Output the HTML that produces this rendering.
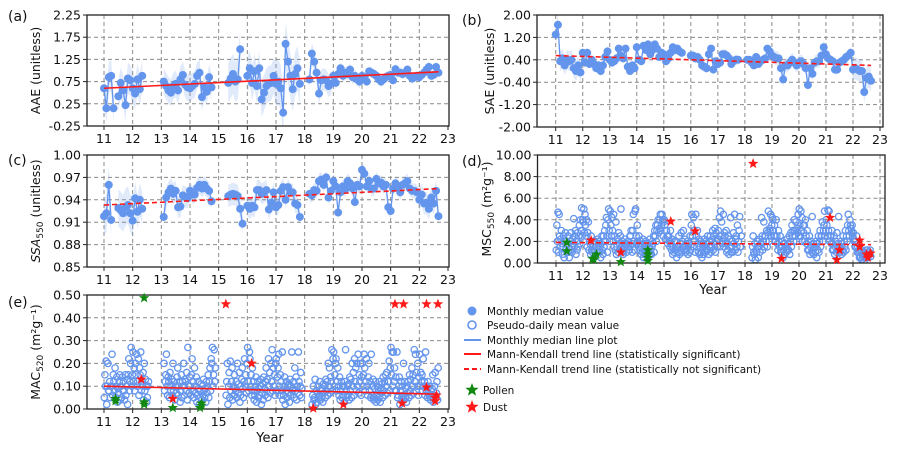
<!DOCTYPE html>
<html><head><meta charset="utf-8">
<style>
html,body{margin:0;padding:0;background:#fff;}
svg{display:block;font-family:"DejaVu Sans","Liberation Sans",sans-serif;}
</style></head>
<body>
<svg id="fig" width="898" height="453" viewBox="0 0 898 453" xmlns="http://www.w3.org/2000/svg"></svg>
<script>
// ---------------- DATA ----------------
const startYear = 2011;
const aaeTicks = [-0.25,0.25,0.75,1.25,1.75,2.25];
const saeTicks = [-2.0,-1.2,-0.4,0.4,1.2,2.0];
const ssaTicks = [0.85,0.88,0.91,0.94,0.97,1.00];
const mscTicks = [0,2,4,6,8,10];
const macTicks = [0,0.1,0.2,0.3,0.4,0.5];
const yearTicks = [11,12,13,14,15,16,17,18,19,20,21,22,23];

const aaeValues = [
0.6,0.15,0.85,0.88,0.15,null,0.42,0.72,0.55,0.22,0.82,0.78,
0.6,0.48,0.8,0.58,0.88,null,null,null,null,null,null,null,
null,0.75,0.65,0.55,0.5,0.65,0.7,0.55,0.8,0.9,0.68,0.62,
0.6,0.65,0.7,0.88,0.95,0.4,0.62,0.52,0.85,0.62,null,null,
null,null,null,null,0.72,0.82,0.92,0.75,0.8,1.48,null,null,
0.88,1.05,0.72,0.98,0.65,1.05,0.35,0.5,0.65,0.7,0.72,0.88,
0.7,0.75,0.6,0.05,1.6,1.2,0.88,0.58,0.92,1.05,0.7,null,
null,null,0.8,1.38,1.2,0.95,0.48,0.78,0.8,0.78,0.65,0.7,
0.88,0.72,0.92,1.05,0.88,0.95,0.92,1.02,0.85,0.88,0.8,0.75,
0.88,0.85,0.75,0.98,0.95,0.92,0.88,0.8,0.75,0.8,0.85,0.88,
0.9,0.78,1.03,0.95,0.95,0.92,0.95,1.02,0.88,0.82,0.85,0.88,
0.85,0.9,0.95,1.02,1.08,0.88,0.9,1.08,0.95];
const aaeSpread = [0.35,0.35,0.3,0.3,0.45,0.4,0.5,0.25,0.15,0.12,0.12,0.12];
const aaeTrend = [0.6,0.97];

const saeValues = [
1.3,1.65,0.35,0.45,0.2,0.4,0.35,0.4,0.1,0.0,0.2,-0.05,
0.65,0.3,0.65,0.25,0.4,0.25,0.1,0.2,0.0,0.2,0.5,0.7,
0.4,0.3,0.35,0.45,0.8,0.55,0.45,0.8,0.15,0.0,0.2,0.1,
0.85,0.4,0.35,0.9,0.75,0.95,0.6,0.75,0.95,0.8,0.5,0.65,
0.6,0.35,0.45,0.65,0.85,0.75,0.8,0.7,0.65,null,null,null,
0.55,0.55,0.45,0.5,0.4,0.2,0.15,0.1,0.6,0.8,0.05,0.35,
0.25,0.3,0.6,0.6,0.55,0.45,0.25,0.35,0.4,0.4,null,null,
null,0.4,0.4,0.3,0.2,0.5,0.25,0.35,0.4,0.45,0.8,0.7,
0.55,0.5,0.45,0.45,0.1,-0.3,0.2,0.2,0.3,0.4,0.3,0.2,
0.3,0.35,0.25,0.1,-0.5,0.1,-0.1,0.3,0.35,0.35,0.55,0.85,
0.6,0.45,0.4,0.35,0.05,0.05,0.3,0.35,0.4,0.5,0.55,0.65,
0.05,0.1,0.05,0.0,0.0,-0.75,-0.25,-0.2,-0.35];
const saeSpread = [0.35,0.18,0.18,0.18,0.18,0.18,0.18,0.12,0.25,0.25,0.18,0.4];
const saeTrend = [0.55,0.2];

const ssaValues = [
0.918,0.922,0.96,0.913,null,null,0.929,0.926,0.922,0.93,0.933,0.922,
0.912,0.942,0.924,0.94,0.928,null,null,null,null,null,null,null,
null,0.917,0.943,0.95,0.955,0.948,0.952,0.93,0.931,0.946,0.944,0.942,
0.952,0.947,0.947,0.956,0.96,0.955,0.96,0.955,0.952,0.938,null,null,
null,null,null,null,0.945,0.947,0.948,0.947,0.945,0.928,0.908,null,
0.932,0.928,0.932,0.93,0.953,0.953,0.948,0.95,0.953,0.927,0.936,0.95,
0.93,0.933,0.952,0.957,0.94,0.957,0.95,0.95,0.935,0.933,0.917,null,
null,null,0.948,0.946,0.953,0.952,0.965,0.967,0.96,0.97,0.943,0.952,
0.965,0.958,0.923,0.95,0.958,0.954,0.965,0.962,0.955,0.937,0.96,0.958,
0.98,0.975,0.958,0.965,0.955,0.955,0.968,0.962,0.963,0.958,0.96,0.93,
0.925,0.955,0.962,0.958,0.95,0.96,0.962,0.965,0.955,0.952,0.952,0.95,
0.94,0.947,0.935,0.936,0.928,0.943,0.935,0.952,0.918];
const ssaSpread = [0.025,0.022,0.014,0.012,0.015,0.014,0.012,0.01,0.01,0.01,0.01,0.015];
const ssaTrend = [0.933,0.955];

const mscDaily = [
1.2,3.5,2.0,4.7, 1.0,4.5,2.5,1.5, 2.2,3.0,1.8,0.8, 1.5,2.5,0.5,2.0, 2.8,1.2,2.0,1.0, 1.8,2.5,1.0,0.5, 2.0,1.2,2.8,1.5, 1.0,2.2,1.8,4.1, 1.5,2.5,3.0,0.8, 2.0,1.2,2.8,1.5, 2.5,3.5,1.8,4.0, 3.0,5.1,2.5,4.0,
3.8,5.0,2.8,4.5, 3.5,2.5,4.0,1.5, 2.8,3.8,1.2,2.0, 1.8,0.8,2.5,1.2, 1.0,1.5,2.0,0.5, 1.2,2.0,0.8,1.5, 1.5,2.2,1.0,1.8, 2.0,1.0,1.5,0.5, 1.8,2.5,1.2,0.8, 2.5,1.5,3.0,2.0, 3.5,4.2,2.5,1.0, 4.0,5.0,3.0,2.0,
4.8,3.5,2.5,4.2, 3.0,2.0,4.5,1.5, 2.5,1.2,3.8,0.8, 1.5,2.2,1.0,2.8, 1.8,1.2,2.5,5.0, 1.5,2.0,1.0,0.8, 1.2,1.8,2.2,1.5, 1.8,1.0,1.5,2.0, 2.0,1.5,1.2,2.5, 2.5,3.0,1.8,1.0, 3.0,4.5,2.0,1.2, 4.8,5.0,2.5,1.8,
3.5,2.0,1.5,2.5, 1.8,1.2,2.0,0.8, 1.5,1.0,2.2,0.5, 1.2,1.8,0.8,2.0, 1.5,1.0,1.8,0.5, 1.0,1.5,2.2,0.8, 1.2,0.8,1.5,2.0, 1.8,2.5,1.0,3.0, 2.5,3.5,2.0,3.0, 3.5,4.0,2.8,3.2, 4.0,4.5,3.0,3.5, 4.5,4.0,2.5,3.8,
4.0,3.5,2.2,3.0, 3.0,2.5,1.8,2.5, 2.5,2.0,1.5,3.0, 1.8,1.2,2.2,0.8, 1.5,1.0,2.0,1.2, 1.2,2.0,0.5,1.5, 1.5,1.0,2.5,0.8, 1.8,1.2,2.8,1.0, 2.0,1.5,3.0,1.2, 1.5,2.2,1.0,1.8, 1.2,2.0,0.8,1.5, 1.8,1.0,2.5,1.2,
3.5,4.5,2.5,1.5, 4.2,3.0,2.0,1.0, 4.5,2.5,1.5,3.0, 1.8,1.0,2.2,0.8, 1.5,2.0,1.0,0.5, 1.2,1.8,0.8,2.2, 1.5,1.0,2.0,1.2, 1.8,2.5,1.2,0.8, 2.0,1.5,2.5,1.0, 1.5,2.2,3.0,1.2, 2.5,1.8,3.2,1.0, 2.8,2.0,1.5,2.2,
3.0,2.2,4.2,1.5, 4.8,2.5,3.8,1.8, 2.0,4.5,1.5,2.8, 2.5,1.8,3.0,1.0, 1.8,1.2,2.5,0.8, 2.2,1.5,4.2,1.0, 1.5,2.0,1.0,2.8, 1.8,4.5,1.2,2.2, 2.5,1.5,3.5,1.0, 2.0,3.0,4.3,1.5, 1.5,2.5,null,null, null,null,null,null,
null,null,null,null, null,null,null,null, null,null,null,null, 0.5,1.5,2.5,1.0, 0.8,1.8,0.3,1.2, 1.0,2.0,1.5,0.5, 1.5,2.2,1.0,1.8, 1.8,4.2,2.5,1.2, 2.0,3.8,1.5,2.5, 2.5,2.0,3.0,1.5, 2.8,4.8,2.0,3.2, 3.0,4.5,2.5,3.5,
4.2,4.0,3.0,2.5, 3.5,2.5,2.0,4.0, 2.5,1.8,1.2,3.0, 2.0,1.5,2.5,1.0, 1.5,1.0,2.0,0.5, 1.2,1.8,0.8,1.5, 1.5,1.0,2.2,1.2, 1.8,1.2,2.5,0.8, 2.0,2.8,1.5,3.5, 2.5,3.0,2.0,4.0, 3.0,2.5,3.8,2.0, 3.2,2.8,4.5,2.5,
5.0,3.5,2.5,4.8, 3.0,4.2,2.0,3.5, 2.8,3.5,2.0,4.0, 2.5,1.8,3.0,1.2, 2.0,1.2,2.5,0.8, 1.5,2.0,1.0,4.3, 1.2,1.8,0.8,1.5, 1.5,1.0,2.0,0.5, 1.8,1.2,2.5,1.0, 2.0,3.0,1.5,2.5, 2.5,3.8,2.0,3.0, 3.5,4.8,2.5,3.0,
4.0,3.5,2.5,4.9, 3.0,4.8,2.0,2.5, 2.5,1.8,3.0,1.2, 1.8,1.2,2.5,0.8, 1.5,2.0,1.0,2.8, 1.2,1.8,4.3,1.0, 1.5,1.0,2.0,0.8, 1.8,1.2,2.5,1.0, 2.0,1.5,3.0,1.2, 2.5,2.0,3.5,4.5, 3.0,2.5,4.0,3.5, 3.2,2.8,3.5,2.5,
2.8,2.2,2.0,1.5, 2.0,1.5,2.5,1.0, 1.5,1.0,1.2,0.5, 1.0,0.5,1.2,0.3, 0.8,0.5,1.0,0.2, 1.0,0.8,0.5,1.2, 0.8,1.2,0.5,1.0, 1.0,0.8,1.2,0.6];
const mscTrend = [1.9,1.7];
const mscDustYear = [12.3,13.4,15.25,16.15,18.3,19.35,21.15,21.4,21.5,22.25,22.25,22.5,22.55,22.65];
const mscDustVal  = [2.1,1.0,3.85,2.95,9.2,0.4,4.2,0.3,1.2,2.1,1.5,0.8,0.5,0.9];
const mscPollenYear = [11.4,11.4,12.35,12.4,12.5,13.4,14.4,14.4,14.4,14.4];
const mscPollenVal  = [1.9,1.1,0.4,0.3,0.8,0.1,1.2,0.8,0.5,0.2];

const macDaily = [
0.05,0.15,0.1,0.21, 0.02,0.1,0.2,0.08, 0.08,0.12,0.05,0.1, 0.1,0.24,0.06,0.15, 0.12,0.08,0.18,0.05, 0.1,0.14,0.03,0.09, 0.07,0.12,0.15,0.04, 0.1,0.05,0.14,0.08, 0.12,0.08,0.04,0.15, 0.06,0.1,0.13,0.02, 0.15,0.22,0.08,0.12, 0.2,0.27,0.1,0.15,
0.25,0.12,0.18,0.08, 0.2,0.15,0.24,0.1, 0.12,0.22,0.06,0.18, 0.15,0.25,0.08,0.12, 0.1,0.16,0.04,0.2, 0.08,0.13,0.1,0.03, 0.05,0.1,0.12,null, null,null,null,null, null,null,null,null, null,null,null,null, null,null,null,null, null,null,null,null,
null,null,null,null, 0.2,0.08,0.12,0.15, 0.24,0.1,0.06,0.14, 0.12,0.05,0.16,0.08, 0.1,0.13,0.06,0.2, 0.08,0.12,0.04,0.1, 0.1,0.07,0.14,0.18, 0.06,0.1,0.12,0.03, 0.08,0.15,0.05,0.12, 0.1,0.2,0.06,0.13, 0.12,0.08,0.16,0.04, 0.27,0.1,0.07,0.14,
0.1,0.06,0.15,0.22, 0.08,0.12,0.05,0.18, 0.1,0.07,0.14,0.03, 0.06,0.12,0.09,0.02, 0.08,0.05,0.11,0.04, 0.1,0.06,0.13,0.08, 0.05,0.09,0.03,0.12, 0.07,0.1,0.15,0.05, 0.12,0.18,0.08,0.22, 0.2,0.27,0.1,0.15, 0.26,0.12,0.18,null, null,null,null,null,
null,null,null,null, null,null,null,null, null,null,null,null, 0.06,0.12,0.2,0.02, 0.1,0.16,0.05,0.21, 0.08,0.12,0.18,0.04, 0.1,0.06,0.15,0.09, 0.08,0.12,0.05,0.2, 0.07,0.11,0.16,0.03, 0.06,0.1,0.13,0.18, 0.09,0.05,0.12,0.22, 0.1,0.15,0.07,0.2,
0.27,0.12,0.08,0.25, 0.22,0.1,0.15,0.06, 0.18,0.08,0.12,0.04, 0.06,0.1,0.14,0.03, 0.08,0.12,0.05,0.09, 0.06,0.1,0.13,0.02, 0.07,0.11,0.04,0.14, 0.09,0.06,0.12,0.18, 0.08,0.13,0.05,0.22, 0.1,0.16,0.07,0.2, 0.12,0.26,0.08,0.18, 0.1,0.15,0.06,0.2,
0.22,0.08,0.14,0.18, 0.24,0.1,0.06,0.15, 0.12,0.08,0.25,0.04, 0.06,0.1,0.14,0.02, 0.08,0.12,0.05,0.1, 0.07,0.11,0.03,0.13, 0.06,0.1,0.25,0.08, 0.09,0.12,0.05,0.18, 0.08,0.14,0.04,0.1, 0.07,0.25,0.12,0.06, 0.1,0.16,0.05,0.09, null,null,null,null,
null,null,null,null, null,null,null,null, null,null,null,null, 0.02,0.06,0.1,0.04, 0.05,0.13,0.02,0.08, 0.03,0.07,0.1,0.05, 0.06,0.12,0.04,0.08, 0.05,0.09,0.03,0.11, 0.07,0.1,0.05,0.13, 0.08,0.12,0.06,0.2, 0.1,0.18,0.07,0.14, 0.12,0.26,0.08,0.22,
0.25,0.1,0.15,0.2, 0.22,0.08,0.12,0.18, 0.1,0.06,0.14,0.04, 0.08,0.12,0.05,0.1, 0.06,0.1,0.03,0.12, 0.26,0.08,0.05,0.1, 0.06,0.11,0.04,0.14, 0.08,0.13,0.05,0.2, 0.1,0.16,0.06,0.22, 0.12,0.18,0.08,0.2, 0.1,0.24,0.07,0.15, 0.12,0.2,0.06,0.14,
0.2,0.1,0.15,0.24, 0.18,0.08,0.12,0.22, 0.1,0.06,0.14,0.2, 0.08,0.12,0.05,0.24, 0.06,0.1,0.13,0.04, 0.05,0.09,0.12,0.03, 0.06,0.1,0.04,0.08, 0.05,0.12,0.03,0.09, 0.07,0.11,0.05,0.14, 0.08,0.12,0.06,0.15, 0.1,0.16,0.07,0.12, 0.12,0.21,0.08,0.18,
0.27,0.15,0.25,0.1, 0.25,0.12,0.18,0.08, 0.14,0.08,0.25,0.05, 0.06,0.1,0.14,0.02, 0.08,0.12,0.05,0.1, 0.06,0.2,0.04,0.12, 0.05,0.09,0.03,0.1, 0.07,0.12,0.05,0.15, 0.08,0.13,0.06,0.18, 0.1,0.15,0.07,0.26, 0.12,0.24,0.08,0.16, 0.1,0.2,0.06,0.14,
0.24,0.1,0.16,0.12, 0.15,0.08,0.22,0.1, 0.12,0.06,0.25,0.08, 0.1,0.05,0.12,0.07, 0.06,0.1,0.04,0.08, 0.05,0.09,0.15,0.03, 0.06,0.1,0.16,0.05, 0.07,0.12,0.04,0.18];
const macTrend = [0.10,0.065];
const macDustYear = [12.3,13.4,16.15,18.3,19.35,21.4,22.25,22.55,22.55,22.6,15.25,21.15,21.45,22.25,22.65];
const macDustVal  = [0.13,0.045,0.2,0.003,0.02,0.025,0.095,0.05,0.035,0.06,0.46,0.46,0.46,0.46,0.46];
const macPollenYear = [11.4,11.4,12.4,12.4,12.4,13.4,14.4,14.4,14.35];
const macPollenVal  = [0.045,0.035,0.03,0.02,0.487,0.005,0.025,0.015,0.005];

// ---------------- DRAWING ----------------
const NS = "http://www.w3.org/2000/svg";
const svg = document.getElementById("fig");
function el(tag, attrs, parent, text){
  const e = document.createElementNS(NS, tag);
  for (const k in attrs) e.setAttribute(k, attrs[k]);
  if (text !== undefined) e.textContent = text;
  (parent || svg).appendChild(e);
  return e;
}
const BLUE = "#6495ED", RED = "#ff1a1a", GREEN = "#118811";
const TICK_FS = 12.5;

function panel(cfg){
  const g = el("g", {});
  
  
  const sx = v => cfg.x0 + (v - 11) * (cfg.x1 - cfg.x0) / 12;
  const sy = v => cfg.bottom - (v - cfg.ymin) * (cfg.bottom - cfg.top) / (cfg.ymax - cfg.ymin);
  const grid = el("g", {stroke:"#8a8a8a","stroke-width":1,"stroke-dasharray":"4,3",fill:"none"}, g);
  
  
  yearTicks.forEach(t => { const x = sx(t); if (x > cfg.left+1 && x < cfg.right-1) el("line",{x1:x,x2:x,y1:cfg.top,y2:cfg.bottom},grid); });
  cfg.yticks.forEach(t => { const y = sy(t); if (y > cfg.top+1 && y < cfg.bottom-1) el("line",{x1:cfg.left,x2:cfg.right,y1:y,y2:y},grid); });
  const xt = el("g", {}, g);
  
  
  yearTicks.forEach(t => {
    const x = sx(t);
    el("line",{x1:x,x2:x,y1:cfg.bottom,y2:cfg.bottom+4,stroke:"#222","stroke-width":1},xt);
    el("text",{x:x,y:cfg.bottom+17,"font-size":TICK_FS,"text-anchor":"middle",fill:"#111"},xt,String(t));
  });
  const yt = el("g", {}, g);
  
  
  cfg.yticks.forEach(t => {
    const y = sy(t);
    el("line",{x1:cfg.left-4,x2:cfg.left,y1:y,y2:y,stroke:"#222","stroke-width":1},yt);
    el("text",{x:cfg.left-6,y:y+4.5,"font-size":TICK_FS,"text-anchor":"end",fill:"#111"},yt,t.toFixed(2));
  });
  const yl = el("text",{x:0,y:0,"font-size":12.5,"text-anchor":"middle",fill:"#111",
    transform:`translate(${cfg.ylabelX},${(cfg.top+cfg.bottom)/2}) rotate(-90)`}, g);
  
  
  yl.innerHTML = cfg.ylabel;
  const pl = el("text",{x:cfg.tagX,y:cfg.tagY,"font-size":14,fill:"#111"}, g, cfg.tag);
  
  
  const cid = cfg.name + "-clip";
  const cp = el("clipPath",{id:cid}, g);
  el("rect",{x:cfg.left,y:cfg.top-6,width:cfg.right-cfg.left,height:cfg.bottom-cfg.top+6},cp);
  const plot = el("g",{"clip-path":`url(#${cid})`}, g);
  
  
  return {g, plot, sx, sy, cfg};
}
function frame(P){
  const c = P.cfg;
  const r = el("rect",{x:c.left,y:c.top,width:c.right-c.left,height:c.bottom-c.top,fill:"none",stroke:"#222","stroke-width":1.3}, P.g);
  
  
}
function monthly(P, values, spread, seriesName){
  const xs = values.map((v,i) => startYear + i/12);
  let seg = [];
  const segs = [];
  values.forEach((v,i) => { if (v === null) { if (seg.length) segs.push(seg); seg = []; } else seg.push(i); });
  if (seg.length) segs.push(seg);
  segs.forEach(s => {
    const up = s.map(i => `${P.sx(xs[i]-2000)},${P.sy(values[i] + spread[Math.floor(i/12)])}`);
    const dn = s.slice().reverse().map(i => `${P.sx(xs[i]-2000)},${P.sy(values[i] - spread[Math.floor(i/12)])}`);
    const b = el("polygon",{points: up.concat(dn).join(" "), fill:"rgba(100,149,237,0.2)", stroke:"none"}, P.plot);
    
    
    const ln = el("polyline",{points: s.map(i => `${P.sx(xs[i]-2000)},${P.sy(values[i])}`).join(" "), fill:"none", stroke:BLUE, "stroke-width":1.3}, P.plot);
    
    
  });
  values.forEach((v,i) => {
    if (v === null) return;
    const c = el("circle",{cx:P.sx(xs[i]-2000), cy:P.sy(v), r:4, fill:BLUE}, P.plot);
    
    
  });
}
function daily(P, values, seriesName){
  values.forEach((v,i) => {
    if (v === null) return;
    const m = Math.floor(i/4), k = i % 4;
    const yr = 11 + (m + (k + 0.5)/4)/12;
    const c = el("circle",{cx:P.sx(yr), cy:P.sy(v), r:3.2, fill:"none", stroke:BLUE, "stroke-width":1.3}, P.plot);
    
    
  });
}
function trend(P, t, dashed, name){
  const l = el("line",{x1:P.sx(11), y1:P.sy(t[0]), x2:P.sx(22.67), y2:P.sy(t[1]), stroke:RED, "stroke-width":1.6,
    "stroke-dasharray": dashed ? "5,3" : "none"}, P.plot);
  
  
}
function starPts(cx, cy, R){
  const pts = [];
  for (let i=0;i<10;i++){
    const a = -Math.PI/2 + i*Math.PI/5, r = i%2 ? R*0.42 : R;
    pts.push((cx + r*Math.cos(a)).toFixed(2) + "," + (cy + r*Math.sin(a)).toFixed(2));
  }
  return pts.join(" ");
}
function stars(P, xs, ys, color, name){
  xs.forEach((x,i) => {
    const s = el("polygon",{points: starPts(P.sx(x), P.sy(ys[i]), 5.5), fill:color}, P.g);
    
    
  });
}

const A = panel({name:"panel-a-aae", left:87, right:449, x0:104, x1:448, top:15, bottom:126, ymin:-0.25, ymax:2.25,
  yticks:aaeTicks, ylabel:"AAE (unitless)", ylabelX:40, tag:"(a)", tagX:8, tagY:21});
monthly(A, aaeValues, aaeSpread, "aae-monthly");
trend(A, aaeTrend, false, "aae-trend-line");
frame(A);

const B = panel({name:"panel-b-sae", left:537, right:883, x0:555.7, x1:880, top:15, bottom:127, ymin:-2, ymax:2,
  yticks:saeTicks, ylabel:"SAE (unitless)", ylabelX:494, tag:"(b)", tagX:462, tagY:25});
monthly(B, saeValues, saeSpread, "sae-monthly");
trend(B, saeTrend, true, "sae-trend-line");
frame(B);

const C = panel({name:"panel-c-ssa", left:87, right:449, x0:104, x1:448, top:155, bottom:267, ymin:0.85, ymax:1.0,
  yticks:ssaTicks, ylabel:'<tspan font-style="italic">SSA</tspan><tspan font-size="9" dy="3">550</tspan><tspan dy="-3"> (unitless)</tspan>', ylabelX:40, tag:"(c)", tagX:8, tagY:165});
monthly(C, ssaValues, ssaSpread, "ssa-monthly");
trend(C, ssaTrend, true, "ssa-trend-line");
frame(C);

const D = panel({name:"panel-d-msc", left:537.5, right:885, x0:556, x1:880, top:155, bottom:263, ymin:0, ymax:10,
  yticks:mscTicks, ylabel:'MSC<tspan font-size="9" dy="3">550</tspan><tspan dy="-3"> (m²g⁻¹)</tspan>', ylabelX:491, tag:"(d)", tagX:462, tagY:166});
daily(D, mscDaily, "msc-daily");
trend(D, mscTrend, true, "msc-trend-line");
frame(D);
stars(D, mscPollenYear, mscPollenVal, GREEN, "msc-pollen-star");
stars(D, mscDustYear, mscDustVal, RED, "msc-dust-star");
const dx = el("text",{x:713,y:294,"font-size":13,"text-anchor":"middle",fill:"#111"}, D.g, "Year");



const E = panel({name:"panel-e-mac", left:87, right:449, x0:104, x1:448, top:295, bottom:409, ymin:0, ymax:0.5,
  yticks:macTicks, ylabel:'MAC<tspan font-size="9" dy="3">520</tspan><tspan dy="-3"> (m²g⁻¹)</tspan>', ylabelX:40, tag:"(e)", tagX:8, tagY:307});
daily(E, macDaily, "mac-daily");
trend(E, macTrend, false, "mac-trend-line");
frame(E);
stars(E, macPollenYear, macPollenVal, GREEN, "mac-pollen-star");
stars(E, macDustYear, macDustVal, RED, "mac-dust-star");
const ex = el("text",{x:270,y:442,"font-size":13,"text-anchor":"middle",fill:"#111"}, E.g, "Year");



const L = el("g",{});


const legendLabels = ["Monthly median value","Pseudo-daily mean value","Monthly median line plot",
  "Mann-Kendall trend line (statistically significant)","Mann-Kendall trend line (statistically not significant)","Pollen","Dust"];
const legendY = [311,325,340,354,369,390,407];
legendLabels.forEach((t,i) => {
  const y = legendY[i];
  const it = el("g",{}, L);
  
  
  if (i===0) el("circle",{cx:472,cy:y,r:4.5,fill:BLUE},it);
  if (i===1) el("circle",{cx:472,cy:y,r:4,fill:"none",stroke:BLUE,"stroke-width":1.6},it);
  if (i===2) el("line",{x1:464,x2:481,y1:y,y2:y,stroke:BLUE,"stroke-width":2},it);
  if (i===3) el("line",{x1:464,x2:481,y1:y,y2:y,stroke:RED,"stroke-width":2},it);
  if (i===4) el("line",{x1:464,x2:481,y1:y,y2:y,stroke:RED,"stroke-width":2,"stroke-dasharray":"5,3"},it);
  if (i===5) el("polygon",{points:starPts(472,y,7),fill:GREEN},it);
  if (i===6) el("polygon",{points:starPts(472,y,7),fill:RED},it);
  el("text",{x:i>=5?483:487,y:y+4,"font-size":10.5,fill:"#111"},it,t);
});
</script>
</body></html>
